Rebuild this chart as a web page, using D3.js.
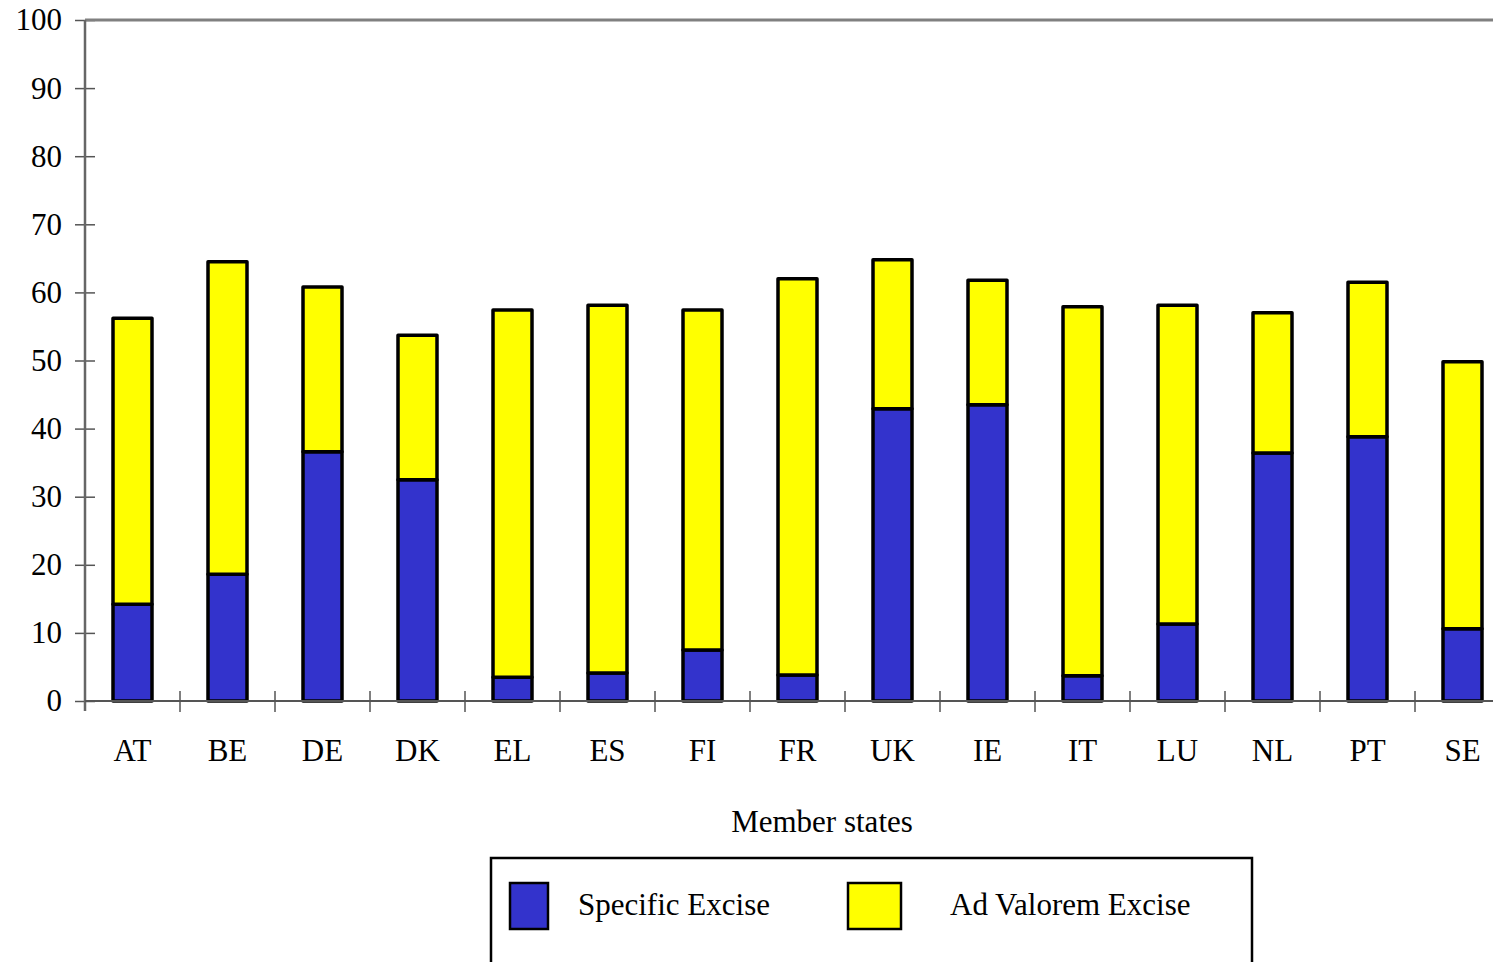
<!DOCTYPE html>
<html>
<head>
<meta charset="utf-8">
<script src="https://cdn.jsdelivr.net/npm/d3@7"></script>
<style>
  body { margin: 0; background: #fff; }
  svg { display: block; font-family: "Liberation Serif", "Times New Roman", serif; }
</style>
</head>
<body>
<svg id="chart" width="1493" height="962"></svg>
<script>
const states = ["AT", "BE", "DE", "DK", "EL", "ES", "FI", "FR", "UK", "IE", "IT", "LU", "NL", "PT", "SE"];
const specificExcise = [14.2, 18.6, 36.6, 32.5, 3.5, 4.1, 7.5, 3.8, 42.9, 43.5, 3.7, 11.3, 36.4, 38.8, 10.6];
const totalExcise = [56.2, 64.5, 60.8, 53.7, 57.4, 58.1, 57.4, 62.0, 64.8, 61.8, 57.9, 58.1, 57.0, 61.5, 49.8];
const adValoremExcise = totalExcise.map((t, i) => +(t - specificExcise[i]).toFixed(1));
const yTicks = [0, 10, 20, 30, 40, 50, 60, 70, 80, 90, 100];
const seriesNames = ["Specific Excise", "Ad Valorem Excise"];
const seriesColors = ["#3333cc", "#ffff00"];

const svg = d3.select("#chart");
const plotLeft = 85, plotTop = 20, plotBottom = 701;
const x = d3.scaleBand().domain(states).range([plotLeft, plotLeft + 95 * states.length]).padding(0);
const y = d3.scaleLinear().domain([0, 100]).range([plotBottom, plotTop]);
const barW = 39;

// stacked data
const rows = states.map((s, i) => ({ state: s, specific: specificExcise[i], adval: adValoremExcise[i] }));
const stack = d3.stack().keys(["specific", "adval"])(rows);

// y axis
const yAxis = svg.append("g")
  .attr("transform", `translate(${plotLeft},0)`)
  .call(d3.axisLeft(y).tickValues(yTicks).tickSize(10).tickPadding(13));
yAxis.select(".domain").remove();
yAxis.selectAll(".tick line").attr("x1", 10).attr("stroke", "#555").attr("stroke-width", 1.5);
yAxis.selectAll(".tick text").attr("font-size", 31).attr("fill", "#000")
  .attr("font-family", "Liberation Serif, serif");

// axis lines
svg.append("line").attr("x1", plotLeft).attr("x2", 1493).attr("y1", plotTop).attr("y2", plotTop)
  .attr("stroke", "#808080").attr("stroke-width", 3);
svg.append("line").attr("x1", plotLeft).attr("x2", plotLeft).attr("y1", plotTop).attr("y2", plotBottom + 10)
  .attr("stroke", "#666").attr("stroke-width", 2.5);

// bars
svg.append("g").selectAll("g")
  .data(stack)
  .join("g")
  .attr("fill", (d, i) => seriesColors[i])
  .selectAll("rect")
  .data(d => d)
  .join("rect")
  .attr("x", d => x(d.data.state) + (x.bandwidth() - barW) / 2)
  .attr("y", d => y(d[1]))
  .attr("width", barW)
  .attr("height", d => y(d[0]) - y(d[1]))
  .attr("stroke", "#000")
  .attr("stroke-width", 3.5)
  .attr("stroke-linejoin", "round");

// x axis baseline and ticks at band boundaries
svg.append("line").attr("x1", plotLeft).attr("x2", 1493).attr("y1", plotBottom).attr("y2", plotBottom)
  .attr("stroke", "#555").attr("stroke-width", 2);
svg.append("g").selectAll("line")
  .data(states.slice(1))
  .join("line")
  .attr("x1", d => x(d)).attr("x2", d => x(d))
  .attr("y1", plotBottom - 10).attr("y2", plotBottom + 11)
  .attr("stroke", "#555").attr("stroke-width", 1.5);

const xAxis = svg.append("g")
  .attr("transform", `translate(0,${plotBottom})`)
  .call(d3.axisBottom(x).tickSize(0).tickPadding(38));
xAxis.select(".domain").remove();
xAxis.selectAll(".tick text").attr("font-size", 31).attr("fill", "#000")
  .attr("font-family", "Liberation Serif, serif");

// axis title
svg.append("text").attr("x", 822).attr("y", 832).attr("text-anchor", "middle")
  .attr("font-size", 31).text("Member states");

// legend
svg.append("rect").attr("x", 491).attr("y", 858).attr("width", 761).attr("height", 120)
  .attr("fill", "#fff").attr("stroke", "#000").attr("stroke-width", 2.5);
const legend = svg.append("g").selectAll("g")
  .data(seriesNames)
  .join("g")
  .attr("transform", (d, i) => `translate(${i === 0 ? 510 : 848},883)`);
legend.append("rect").attr("width", (d, i) => i === 0 ? 38 : 53).attr("height", 46)
  .attr("fill", (d, i) => seriesColors[i]).attr("stroke", "#000").attr("stroke-width", 2.5);
legend.append("text").attr("x", (d, i) => i === 0 ? 68 : 102).attr("y", 32)
  .attr("font-size", 31).text(d => d);
</script>
</body>
</html>
